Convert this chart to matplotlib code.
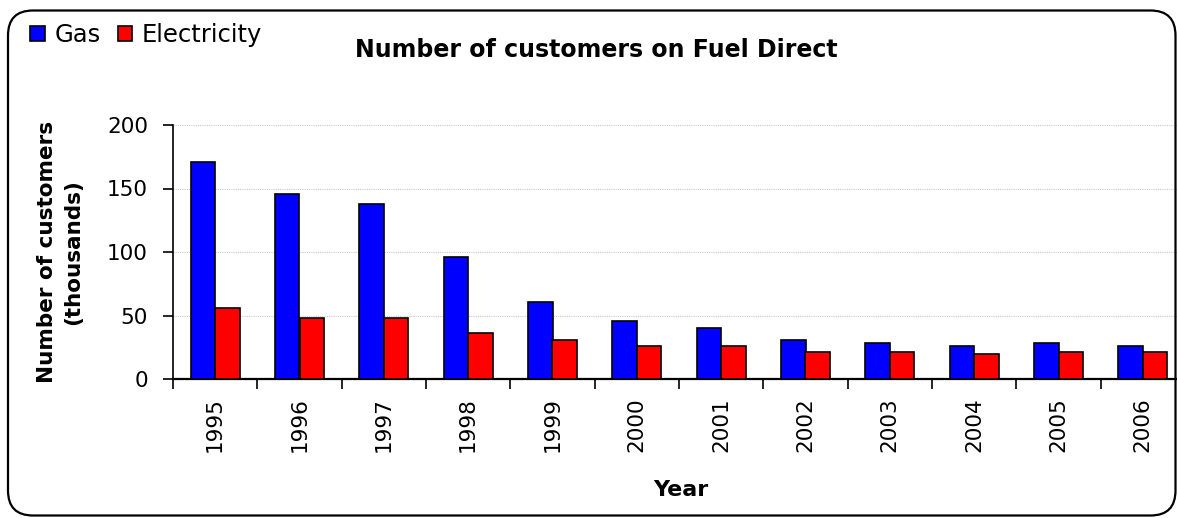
import numpy as np
import matplotlib
matplotlib.use("Agg")
import matplotlib.pyplot as plt
from matplotlib.patches import Patch, FancyBboxPatch

years = ['1995', '1996', '1997', '1998', '1999', '2000',
         '2001', '2002', '2003', '2004', '2005', '2006']
gas = [171, 146, 138, 96, 61, 46, 40, 31, 28, 26, 28, 26]
electricity = [56, 48, 48, 36, 31, 26, 26, 21, 21, 19.5, 21, 21]
yticks = [0, 50, 100, 150, 200]

W, H = 1177, 518
plt.rcParams['font.family'] = ['DejaVu Sans']

fig = plt.figure(figsize=(W / 100, H / 100), dpi=100)
ax = fig.add_axes([173 / W, 1 - 379 / H, 1012 / W, 254 / H])

x = np.arange(len(years))
bw = 0.29
ax.bar(x - bw / 2, gas, bw, color='#0000ff', edgecolor='black', linewidth=1.2, zorder=3)
ax.bar(x + bw / 2, electricity, bw, color='#ff0000', edgecolor='black', linewidth=1.2, zorder=3)

ax.set_xlim(-0.5, len(years) - 0.5)
ax.set_ylim(0, 200)
ax.set_yticks(yticks)
ax.yaxis.grid(True, color='#c8c8c8', linestyle=(0, (1, 1)), linewidth=0.8)
ax.set_axisbelow(True)

# ticks at category boundaries, labels at centres
ax.set_xticks(np.arange(len(years) + 1) - 0.5)
ax.set_xticklabels([])
ax.set_xticks(x, minor=True)
ax.set_xticklabels(years, minor=True, rotation=90)
ax.tick_params(axis='x', which='major', direction='out', length=7, width=1.2)
ax.tick_params(axis='x', which='minor', length=0, labelsize=15.5, pad=13)
ax.tick_params(axis='y', direction='out', length=7, width=1.2, labelsize=15.5, pad=11)

for s in ['top', 'right']:
    ax.spines[s].set_visible(False)
ax.spines['left'].set_linewidth(1.2)
ax.spines['bottom'].set_linewidth(1.6)

fig.text(596 / W, 1 - 50 / H, 'Number of customers on Fuel Direct',
         ha='center', va='center', fontsize=17, fontweight='bold')
fig.text(60 / W, 1 - 252 / H, 'Number of customers\n(thousands)', rotation=90,
         ha='center', va='center', multialignment='center', linespacing=1.4,
         fontsize=15.5, fontweight='bold')
fig.text(681 / W, 1 - 490 / H, 'Year', ha='center', va='center',
         fontsize=16, fontweight='bold')

handles = [Patch(facecolor='#0000ff', edgecolor='black', linewidth=1.2),
           Patch(facecolor='#ff0000', edgecolor='black', linewidth=1.2)]
fig.legend(handles, ['Gas', 'Electricity'], loc='upper left',
           bbox_to_anchor=(30 / W, 1 - 23 / H), ncol=2, frameon=False,
           fontsize=17.5, handlelength=0.6, handleheight=0.6, handletextpad=0.4,
           columnspacing=0.7, borderpad=0, borderaxespad=0)

# chart-area border
frame = FancyBboxPatch((0.08, 0.025), 11.675, 5.05,
                       boxstyle='round,pad=0,rounding_size=0.25',
                       transform=fig.dpi_scale_trans, fill=False,
                       edgecolor='black', linewidth=1.6)
fig.add_artist(frame)

fig.savefig('out.png', dpi=100)
